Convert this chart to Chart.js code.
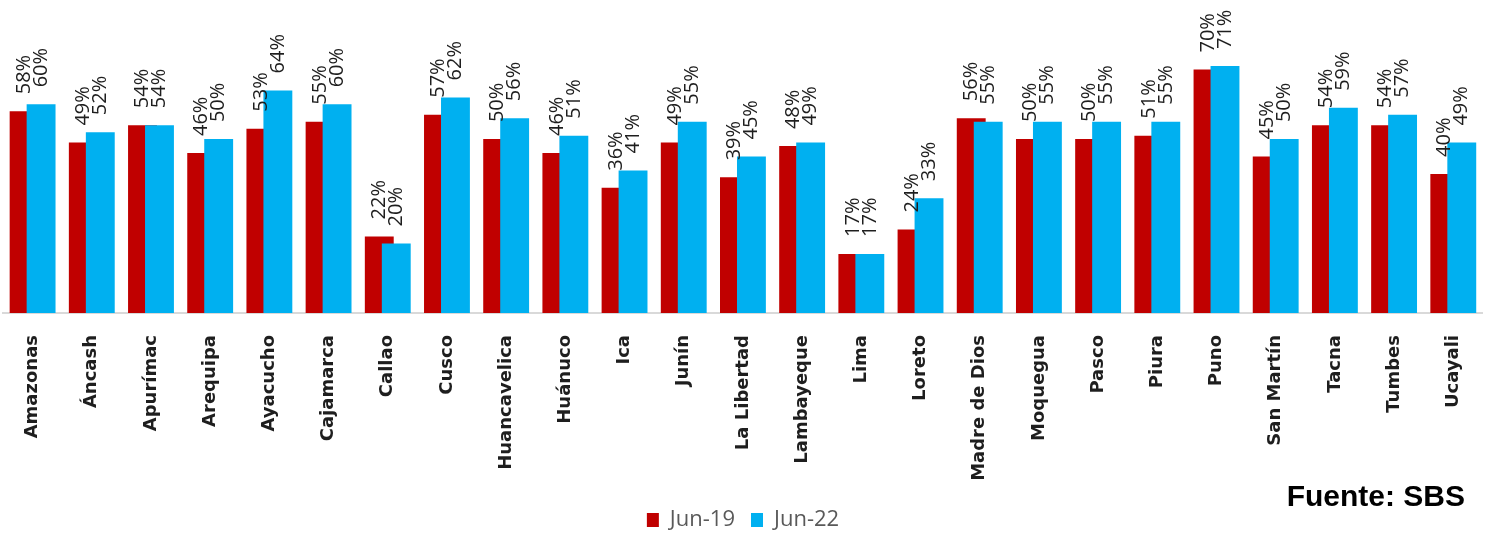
<!DOCTYPE html>
<html>
<head>
<meta charset="utf-8">
<script src="https://cdn.jsdelivr.net/npm/chart.js@4"></script>
<style>
	html, body { margin: 0; padding: 0; background: #ffffff; }
	#wrap { position: relative; width: 1489px; height: 534px; }
	#source {
		position: absolute; right: 24px; top: 481px;
		font: bold 30px "Liberation Sans", Arial, sans-serif; line-height: 30px;
		color: #000000;
	}
</style>
</head>
<body>
<div id="wrap">
	<canvas id="RegionChart" width="1489" height="534"></canvas>
	<div id="source">Fuente: SBS</div>
</div>
<script>
const regions = ['Amazonas', 'Áncash', 'Apurímac', 'Arequipa', 'Ayacucho', 'Cajamarca', 'Callao', 'Cusco',
	'Huancavelica', 'Huánuco', 'Ica', 'Junín', 'La Libertad', 'Lambayeque', 'Lima', 'Loreto', 'Madre de Dios',
	'Moquegua', 'Pasco', 'Piura', 'Puno', 'San Martín', 'Tacna', 'Tumbes', 'Ucayali']
const jun19 = [58, 49, 54, 46, 53, 55, 22, 57, 50, 46, 36, 49, 39, 48, 17, 24, 56, 50, 50, 51, 70, 45, 54, 54, 40]
const jun22 = [60, 52, 54, 50, 64, 60, 20, 62, 56, 51, 41, 55, 45, 49, 17, 33, 55, 55, 55, 55, 71, 50, 59, 57, 49]
const seriesNames = ['Jun-19', 'Jun-22']

// cyan bars sit over the red ones, then the % labels go on top of everything
const overlapLabels = {
	id: 'overlapLabels',
	beforeDatasetDraw: function (chart, args) {
		if (args.index === 1) return false;
	},
	afterDatasetsDraw: function (chart) {
		chart.getDatasetMeta(1).controller.draw();
		const ctx = chart.ctx;
		ctx.save();
		ctx.font = '20px "Open Sans"';
		ctx.fillStyle = '#1e1e1e';
		ctx.textAlign = 'left';
		ctx.textBaseline = 'middle';
		chart.data.datasets.forEach((ds, i) => {
			chart.getDatasetMeta(i).data.forEach((bar, j) => {
				ctx.save();
				ctx.translate(bar.x, bar.y - 17);
				ctx.rotate(-Math.PI / 2);
				ctx.fillText(ds.data[j] + '%', 0, 0);
				ctx.restore();
			});
		});
		ctx.restore();
	}
};

const data = {
	labels: regions,
	datasets: [{
		label: seriesNames[0],
		backgroundColor: '#C00000',
		data: jun19,
	}, {
		label: seriesNames[1],
		backgroundColor: '#00B0F0',
		data: jun22,
	}]
};

const config = {
	type: 'bar',
	data: data,
	options: {
		responsive: false,
		animation: false,
		layout: { padding: { top: 0, left: 3, right: 6, bottom: -7 } },
		datasets: {
			bar: { categoryPercentage: 0.574, barPercentage: 1.7 }
		},
		plugins: {
			tooltip: { enabled: false },
			legend: {
				position: 'bottom',
				labels: {
					boxWidth: 12,
					boxHeight: 14,
					padding: 16,
					color: '#595959',
					font: { family: 'Open Sans', size: 22 }
				}
			}
		},
		scales: {
			x: {
				grid: { display: false },
				border: { display: true, color: '#d9d9d9', width: 2 },
				ticks: {
					minRotation: 90,
					maxRotation: 90,
					padding: 14,
					color: '#1e1e1e',
					font: { family: 'DejaVu Sans', weight: 'bold', size: 18 }
				},
				afterFit: function (scale) { scale.height = 180; }
			},
			y: {
				display: false,
				min: 0,
				max: 90
			}
		}
	},
	plugins: [overlapLabels]
};

const RegionChart = new Chart(
	document.getElementById('RegionChart'),
	config
);
</script>
</body>
</html>
